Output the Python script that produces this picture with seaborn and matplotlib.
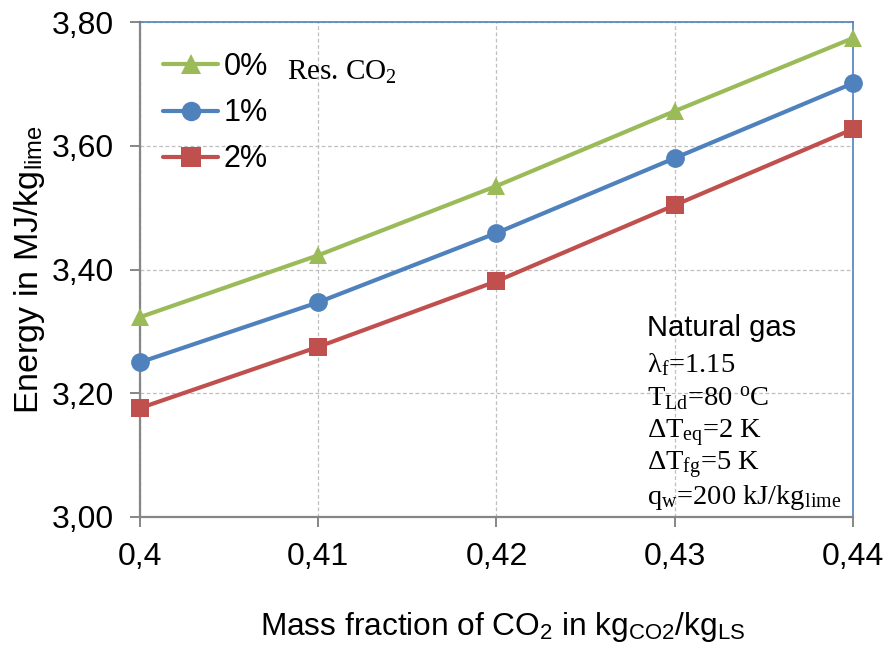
import matplotlib
matplotlib.use("Agg")
import matplotlib.pyplot as plt
import seaborn as sns
import pandas as pd
from matplotlib.lines import Line2D

# ---- data ----
x_vals = [0.40, 0.41, 0.42, 0.43, 0.44]
res0 = [3.323, 3.423, 3.535, 3.656, 3.774]
res1 = [3.250, 3.347, 3.459, 3.580, 3.701]
res2 = [3.176, 3.275, 3.381, 3.504, 3.627]
series_names = ["0%", "1%", "2%"]
x_tick_labels = ["0,4", "0,41", "0,42", "0,43", "0,44"]
y_ticks = [3.00, 3.20, 3.40, 3.60, 3.80]
y_tick_labels = ["3,00", "3,20", "3,40", "3,60", "3,80"]

sns.set_theme(style="white")
plt.rcParams["font.family"] = ["Liberation Sans", "DejaVu Sans"]
plt.rcParams["text.color"] = "black"
plt.rcParams["axes.labelcolor"] = "black"
plt.rcParams["mathtext.fontset"] = "custom"
plt.rcParams["mathtext.rm"] = "Liberation Serif"
plt.rcParams["mathtext.it"] = "Liberation Serif:italic"
plt.rcParams["mathtext.sf"] = "Liberation Sans"

rows = []
for name, vals in zip(series_names, [res0, res1, res2]):
    for xv, yv in zip(x_vals, vals):
        rows.append({"x": xv, "y": yv, "series": name})
df = pd.DataFrame(rows)

colors = {"0%": "#9BBB59", "1%": "#4F81BD", "2%": "#C0504D"}
markers = {"0%": "^", "1%": "o", "2%": "s"}

W, H = 888, 650
fig = plt.figure(figsize=(W / 100, H / 100), dpi=100)
ax = fig.add_axes([140 / W, 1 - 517 / H, (853 - 140) / W, (517 - 22) / H])

sns.lineplot(data=df, x="x", y="y", hue="series", style="series",
             palette=colors, markers=markers, dashes=False,
             linewidth=3, markersize=13.5, markeredgewidth=0,
             ax=ax, legend=False, clip_on=False, zorder=3)

ax.set_xlim(0.40, 0.44)
ax.set_ylim(3.00, 3.80)
ax.set_xticks(x_vals)
ax.set_xticklabels(x_tick_labels, fontsize=23)
ax.set_yticks(y_ticks)
ax.set_yticklabels(y_tick_labels, fontsize=23)

ax.grid(True, color="#BFBFBF", linestyle=(0, (3, 2)), linewidth=0.9)
ax.set_axisbelow(True)

for s in ["left", "bottom"]:
    ax.spines[s].set_color("#868686")
    ax.spines[s].set_linewidth(1.6)
for s in ["top", "right"]:
    ax.spines[s].set_color("#4F81BD")
    ax.spines[s].set_linewidth(1.2)

ax.tick_params(axis="both", which="major", direction="out", length=7,
               width=1.4, color="#868686", labelcolor="black",
               left=True, bottom=True)
ax.tick_params(axis="y", pad=12)
ax.tick_params(axis="x", pad=11)

ax.set_xlabel("Mass fraction of CO$_\\mathsf{2}$ in kg$_\\mathsf{CO2}$/kg$_\\mathsf{LS}$",
              fontsize=22.8)
ax.xaxis.set_label_coords((503 - 140) / 713, -(610 - 517) / 495)
ax.set_ylabel("Energy in MJ/kg$_\\mathsf{lime}$", fontsize=24.5)
ax.yaxis.set_label_coords(-(140 - 47) / 713, 0.50)

handles = [Line2D([], [], color=colors[n], marker=markers[n], markersize=14,
                  markeredgewidth=0, linewidth=3) for n in series_names]
leg = ax.legend(handles, series_names, loc="upper left", frameon=False,
                fontsize=22, handlelength=1.8, handletextpad=0.18,
                labelspacing=0.53, borderpad=0, borderaxespad=0,
                bbox_to_anchor=((163 - 140) / 713, 1 - (52 - 22) / 495))

fig.text(287 / W, 1 - 72 / H, "Res. CO$_\\mathrm{2}$", fontsize=21,
         family="Liberation Serif", va="center", ha="left")

# annotation block
tx = 647 / W
lines = [
    ("Natural gas", "Liberation Sans", 21),
    ("λ$_\\mathrm{f}$=1.15", "Liberation Serif", 20.5),
    ("T$_\\mathrm{Ld}$=80 $^\\mathrm{o}$C", "Liberation Serif", 20.5),
    ("ΔT$_\\mathrm{eq}$=2 K", "Liberation Serif", 20.5),
    ("ΔT$_\\mathrm{fg}$=5 K", "Liberation Serif", 20.5),
    ("q$_\\mathrm{w}$=200 kJ/kg$_\\mathrm{lime}$", "Liberation Serif", 20.5),
]
ys = [325, 362, 395, 428, 460, 493]
for (t, fam, fs), yp in zip(lines, ys):
    fig.text(tx, 1 - yp / H, t, family=fam, fontsize=fs,
             va="center_baseline", ha="left")

fig.savefig("out.png", dpi=100)
